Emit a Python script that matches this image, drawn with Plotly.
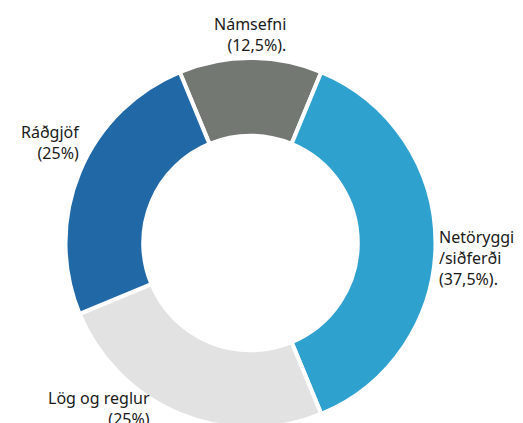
import plotly.graph_objects as go

labels = ["Námsefni", "Netöryggi/siðferði", "Lög og reglur", "Ráðgjöf"]
values = [12.5, 37.5, 25, 25]
label_texts = ["Námsefni<br>(12,5%).", "Netöryggi<br>/siðferði<br>(37,5%).", "Lög og reglur<br>(25%)", "Ráðgjöf<br>(25%)"]
colors = ["#737873", "#2fa1cf", "#e2e2e2", "#2169a6"]

W, H = 523, 423
cx, cy, R = 242.5, 235, 185

fig = go.Figure(go.Pie(
    labels=labels, values=values, hole=0.58, sort=False, direction="clockwise",
    rotation=-22.5, textinfo="none", hoverinfo="label+percent",
    marker=dict(colors=colors, line=dict(color="white", width=4)),
    domain=dict(x=[(cx - R) / W, (cx + R) / W], y=[(H - cy - R) / H, (H - cy + R) / H]),
    showlegend=False,
))

# label placement (pixel positions) : (x, y, xanchor, align)
placements = [
    (280, 27, "right", "right"),
    (429, 250, "left", "left"),
    (144, 400, "right", "right"),
    (74, 134, "right", "right"),
]
for t, (px, py, xa, al) in zip(label_texts, placements):
    fig.add_annotation(x=px / W, y=1 - py / H, xref="paper", yref="paper", text=t,
                       showarrow=False, xanchor=xa, yanchor="middle", align=al,
                       font=dict(family="Noto Sans", size=16, color="#1a1a1a"))

fig.update_layout(width=W, height=H, margin=dict(l=0, r=0, t=0, b=0),
                  paper_bgcolor="white", plot_bgcolor="white")
fig.write_html("out.html")
